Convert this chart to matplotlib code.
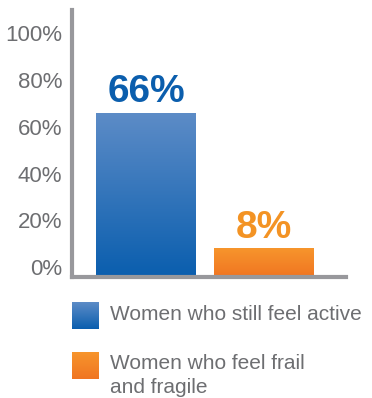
import numpy as np
import matplotlib.pyplot as plt
from matplotlib.colors import LinearSegmentedColormap

plt.rcParams['font.family'] = ['Liberation Sans', 'DejaVu Sans']

categories = ["Women who still feel active", "Women who feel frail\nand fragile"]
values = [66, 8]
value_labels = ["66%", "8%"]
yticks = [0, 20, 40, 60, 80, 100]
ytick_labels = ["0%", "20%", "40%", "60%", "80%", "100%"]

# (top colour, bottom colour) for the gradients
grads = [("#5d8cc7", "#0a5eae"), ("#f7952c", "#f07522")]
label_colors = ["#0b5ead", "#f39324"]
gray_text = "#6d6e71"
axis_gray = "#98989c"

floor = -4.3


def gradient(ax, extent, top, bottom, clip=None):
    cmap = LinearSegmentedColormap.from_list("g", [bottom, top])
    g = np.linspace(0, 1, 256).reshape(-1, 1)
    im = ax.imshow(g, extent=extent, origin="lower", cmap=cmap,
                   aspect="auto", zorder=2)
    if clip is not None:
        im.set_clip_path(clip)
    return im


fig = plt.figure(figsize=(3.72, 3.98), dpi=100)
ax = fig.add_axes([72 / 372, 1 - 277 / 398, 274 / 372, 267 / 398])

x = np.arange(len(values))
bars = ax.bar(x, [v - floor for v in values], bottom=floor, width=0.847,
              color="none", edgecolor="none")
for bar, (top, bottom) in zip(bars, grads):
    x0, y0 = bar.get_x(), bar.get_y()
    gradient(ax, [x0, x0 + bar.get_width(), y0, y0 + bar.get_height()],
             top, bottom, clip=bar)

for i, (v, lab) in enumerate(zip(values, value_labels)):
    ax.text(x[i], v + 4.5, lab, ha="center", va="baseline", fontsize=28,
            fontweight="bold", color=label_colors[i])

ax.set_xlim(-0.627, 1.695)
ax.set_ylim(floor, 110)
ax.set_yticks(yticks, ytick_labels)
ax.set_xticks([])
ax.tick_params(axis="y", length=0, pad=7, labelsize=16, labelcolor=gray_text)
for s in ["top", "right"]:
    ax.spines[s].set_visible(False)
for s in ["left", "bottom"]:
    ax.spines[s].set_color(axis_gray)
    ax.spines[s].set_linewidth(3)
    ax.spines[s].set_zorder(3)

# legend drawn by hand
sw_top = [302, 352]
txt_y = [315, 375.5]
for i, cat in enumerate(categories):
    sax = fig.add_axes([72 / 372, 1 - (sw_top[i] + 27) / 398, 27 / 372, 27 / 398])
    gradient(sax, [0, 1, 0, 1], grads[i][0], grads[i][1])
    sax.set_xlim(0, 1)
    sax.set_ylim(0, 1)
    sax.axis("off")
    fig.text(110 / 372, 1 - txt_y[i] / 398, cat, ha="left", va="center",
             fontsize=15, color=gray_text, linespacing=1.33)

fig.savefig("out.png", dpi=100)
